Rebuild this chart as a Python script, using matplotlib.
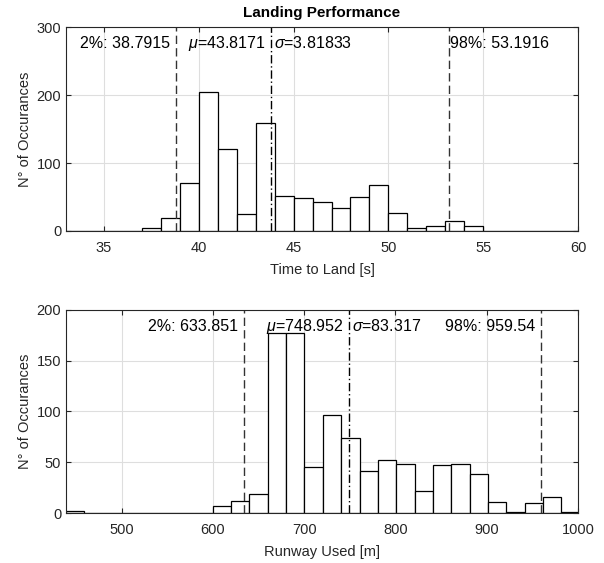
import numpy as np
import matplotlib.pyplot as plt

plt.rcParams['font.family'] = ['Liberation Sans', 'DejaVu Sans']
plt.rcParams['mathtext.fontset'] = 'custom'
plt.rcParams['mathtext.rm'] = 'Liberation Sans'
plt.rcParams['mathtext.it'] = 'Liberation Sans:italic'

# time to land histogram (1 s bins starting at 33 s)
time_start, time_width = 33.0, 1.0
time_counts = [0, 0, 0, 0, 5, 19, 71, 204, 120, 25, 159, 51, 49, 43, 34, 50,
               68, 27, 4, 8, 15, 8, 0, 0, 0, 0, 0]
time_p2, time_mean, time_std, time_p98 = 38.7915, 43.8171, 3.81833, 53.1916

# runway used histogram
rwy_start, rwy_width = 439.0, 20.1
rwy_counts = [2, 0, 0, 0, 0, 0, 0, 0, 7, 12, 19, 177, 177, 45, 97, 74, 41,
              52, 48, 22, 47, 48, 38, 11, 1, 10, 16, 1]
rwy_p2, rwy_mean, rwy_std, rwy_p98 = 633.851, 748.952, 83.317, 959.54

dark = '#262626'

fig = plt.figure(figsize=(6.04, 5.63), dpi=100)
ax1 = fig.add_axes([0.1093, 0.5897, 0.8477, 0.3623])
ax2 = fig.add_axes([0.1093, 0.0888, 0.8477, 0.3606])


def draw_hist(ax, start, width, counts, xlim, ylim, xticks, yticks):
    edges = start + width * np.arange(len(counts))
    ax.bar(edges, counts, width=width, align='edge', color='white',
           edgecolor='black', linewidth=0.9, zorder=2)
    ax.set_xlim(*xlim)
    ax.set_ylim(*ylim)
    ax.set_xticks(xticks)
    ax.set_yticks(yticks)
    ax.grid(True, color='#dedede', linewidth=0.8, zorder=0)
    ax.set_axisbelow(True)
    ax.tick_params(direction='in', length=3.5, top=True, right=True,
                   colors=dark, labelsize=10.5, width=0.8)
    ax.tick_params(axis='x', pad=7)
    for s in ax.spines.values():
        s.set_color(dark)
        s.set_linewidth(0.8)
        s.set_zorder(5)
    ax.set_ylabel('N° of Occurances', fontsize=10.5, color=dark, labelpad=3)


def stat_lines(ax, p2, mean, std, p98, ytext, p98_left):
    for x in (p2, p98):
        ax.axvline(x, color='#333333', linestyle=(0, (6, 3)), linewidth=1.0, zorder=3)
    ax.axvline(mean, color='black', linestyle=(0, (6, 2, 1, 2)), linewidth=1.0, zorder=3)
    kw = dict(fontsize=11.5, color='black', va='center', zorder=4,
              textcoords='offset points')
    ax.annotate(f'2%: {p2:g}', (p2, ytext), xytext=(-4, 0), ha='right', **kw)
    ax.annotate(f'$\\mu$={mean:g}', (mean, ytext), xytext=(-4, 0), ha='right', **kw)
    ax.annotate(f'$\\sigma$={std:g}', (mean, ytext), xytext=(2, 0), ha='left', **kw)
    if p98_left:
        ax.annotate(f'98%: {p98:g}', (p98, ytext), xytext=(-4, 0), ha='right', **kw)
    else:
        ax.annotate(f'98%: {p98:g}', (p98, ytext), xytext=(1, 0), ha='left', **kw)


draw_hist(ax1, time_start, time_width, time_counts, (33, 60), (0, 300),
          [35, 40, 45, 50, 55, 60], [0, 100, 200, 300])
stat_lines(ax1, time_p2, time_mean, time_std, time_p98, 276, False)
ax1.set_xlabel('Time to Land [s]', fontsize=10.5, color=dark, labelpad=6)
ax1.set_title('Landing Performance', fontsize=11, fontweight='bold', pad=7)

draw_hist(ax2, rwy_start, rwy_width, rwy_counts, (439, 1000), (0, 200),
          [500, 600, 700, 800, 900, 1000], [0, 50, 100, 150, 200])
stat_lines(ax2, rwy_p2, rwy_mean, rwy_std, rwy_p98, 184, True)
ax2.set_xlabel('Runway Used [m]', fontsize=10.5, color=dark, labelpad=6)

fig.savefig('out.png', dpi=100)
